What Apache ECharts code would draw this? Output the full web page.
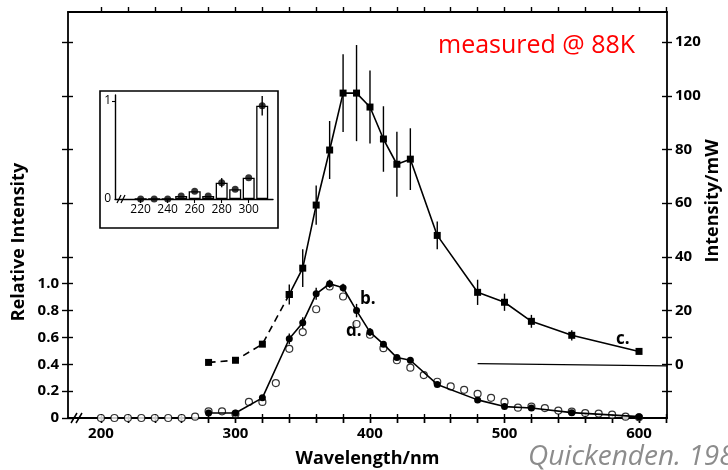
<!DOCTYPE html>
<html>
<head>
<meta charset="utf-8">
<script src="https://cdn.jsdelivr.net/npm/echarts@6/dist/echarts.min.js"></script>
<style>
  html, body { margin: 0; padding: 0; background: #fff; }
  #chart { width: 728px; height: 470px; }
</style>
</head>
<body>
<div id="chart"></div>
<script>
// curve c (right axis, mW) - dashed low part and solid part
const cDashX = [280, 300, 320, 340];
const cDashY = [0.7, 1.5, 7.5, 26];
const cX = [340, 350, 360, 370, 380, 390, 400, 410, 420, 430, 450, 480, 500, 520, 550, 600];
const cY = [26, 35.8, 59.3, 79.8, 101, 101, 95.8, 83.9, 74.5, 76.4, 48, 26.8, 23.1, 16.0, 10.8, 4.8];
const cErr = [3.7, 7, 7.3, 10.8, 14.5, 17.9, 13.6, 12.2, 12.1, 11.5, 5.2, 4.7, 3.2, 2.4, 1.9, 0];

// curve b (left axis, relative)
const bX = [280, 300, 320, 340, 350, 360, 370, 380, 390, 400, 410, 420, 430, 450, 480, 500, 520, 550, 600];
const bY = [0.037, 0.037, 0.15, 0.59, 0.71, 0.925, 1.0, 0.97, 0.80, 0.64, 0.55, 0.45, 0.43, 0.25, 0.135, 0.085, 0.075, 0.04, 0.01];
const bErr = [0, 0, 0, 0.04, 0.04, 0.045, 0.03, 0.03, 0.05, 0.03, 0, 0, 0, 0, 0, 0, 0, 0, 0];

// curve d (open circles, left axis)
const dX = [200, 210, 220, 230, 240, 250, 260, 270, 280, 290, 300, 310, 320, 330, 340, 350, 360, 370, 380, 390,
            400, 410, 420, 430, 440, 450, 460, 470, 480, 490, 500, 510, 520, 530, 540, 550, 560, 570, 580, 590, 600];
const dY = [0, 0, 0, 0, 0, 0, 0, 0.01, 0.05, 0.05, 0.03, 0.12, 0.12, 0.26, 0.515, 0.64, 0.81, 0.98, 0.905, 0.70,
            0.62, 0.52, 0.43, 0.375, 0.32, 0.27, 0.235, 0.21, 0.18, 0.15, 0.12, 0.077, 0.085, 0.074, 0.055, 0.047, 0.037, 0.033, 0.025, 0.01, 0.005];

// zero reference line of curve c
const zeroX = [480, 621];
const zeroY = [0.25, -0.6];

// inset histogram
const insetX = [220, 230, 240, 250, 260, 270, 280, 290, 300, 310];
const insetY = [0, 0, 0, 0.03, 0.08, 0.03, 0.166, 0.10, 0.217, 0.95];
const insetErr = [0, 0, 0, 0, 0, 0, 0.047, 0, 0, 0.1];

// ticks / labels
const xTicks = [200, 220, 240, 260, 280, 300, 320, 340, 360, 380, 400, 420, 440, 460, 480, 500, 520, 540, 560, 580, 600, 620];
const xLabels = [200, 300, 400, 500, 600];
const leftTicks = [0, 0.2, 0.4, 0.6, 0.8, 1.0, 1.2, 1.6, 2.0, 2.4, 2.8];
const leftLabels = [0, 0.2, 0.4, 0.6, 0.8, 1.0];
const rightTicks = [-10, 0, 10, 20, 30, 40, 60, 80, 100, 120];
const rightLabels = [0, 20, 40, 60, 80, 100, 120];
const insetTicks = [220, 240, 260, 280, 300];
const insetYLabels = [0, 1];

const FONT = 'Open Sans';
const zip = (xs, ys) => xs.map((x, i) => [x, ys[i]]);
const zip3 = (xs, ys, es) => xs.map((x, i) => [x, ys[i], es[i]]);

const errItem = (params, api) => {
  const x = api.value(0), y = api.value(1), e = api.value(2);
  if (!e) return null;
  const p1 = api.coord([x, y - e]);
  const p2 = api.coord([x, y + e]);
  return {
    type: 'line',
    shape: { x1: p1[0], y1: p1[1], x2: p2[0], y2: p2[1] },
    style: { stroke: '#000', lineWidth: 1.4 }
  };
};

const lineCol = '#000';
const tickStyle = { color: lineCol, width: 1.4 };
const labelStyle = { color: '#000', fontFamily: FONT, fontWeight: 'bold', fontSize: 15 };

const xBase = (extra) => Object.assign({
  type: 'value', gridIndex: 0, min: 175.5, max: 620.8,
  splitLine: { show: false },
  axisLine: { show: false },
  axisLabel: { show: false },
  axisTick: { show: true, customValues: xTicks, length: 5, lineStyle: tickStyle }
}, extra);

const yBase = (extra) => Object.assign({
  type: 'value', gridIndex: 0,
  splitLine: { show: false },
  axisLine: { show: false },
  axisLabel: { show: false }
}, extra);

const chart = echarts.init(document.getElementById('chart'));
chart.setOption({
  animation: false,
  backgroundColor: '#fff',
  grid: [
    { left: 68, right: 61, top: 12, bottom: 52, containLabel: false, outerBoundsMode: 'none' },
    { left: 115, top: 95, width: 158, height: 104, containLabel: false, outerBoundsMode: 'none' }
  ],
  xAxis: [
    xBase({
      position: 'bottom',
      axisLine: { show: true, onZero: false, lineStyle: { color: lineCol, width: 1.8 } },
      axisLabel: Object.assign({ show: true, customValues: xLabels, margin: 8 }, labelStyle),
      name: 'Wavelength/nm', nameLocation: 'middle', nameGap: 32,
      nameTextStyle: { color: '#000', fontFamily: FONT, fontWeight: 'bold', fontSize: 18 }
    }),
    xBase({ position: 'bottom', axisTick: { show: true, inside: true, customValues: xTicks, length: 4, lineStyle: tickStyle } }),
    xBase({
      position: 'top',
      axisLine: { show: true, onZero: false, lineStyle: { color: lineCol, width: 1.8 } }
    }),
    xBase({ position: 'top', axisTick: { show: true, inside: true, customValues: xTicks, length: 5, lineStyle: tickStyle } }),
    {
      type: 'value', gridIndex: 1, min: 201, max: 318,
      splitLine: { show: false },
      axisLine: { show: true, onZero: false, lineStyle: { color: lineCol, width: 1.4 } },
      axisTick: { show: true, customValues: insetTicks, length: 4, lineStyle: { color: lineCol, width: 1.1 } },
      axisLabel: { show: true, customValues: insetTicks, margin: 5, color: '#000', fontFamily: FONT, fontSize: 12 }
    }
  ],
  yAxis: [
    yBase({
      position: 'left', min: 0, max: 3.024,
      axisLine: { show: true, onZero: false, lineStyle: { color: lineCol, width: 1.8 } },
      axisTick: { show: true, customValues: leftTicks, length: 6, lineStyle: tickStyle },
      axisLabel: Object.assign({
        show: true, customValues: leftLabels, margin: 9,
        formatter: (v) => (v === 0 ? '0' : v.toFixed(1))
      }, labelStyle)
    }),
    yBase({
      position: 'left', min: 0, max: 3.024,
      axisTick: { show: true, inside: true, customValues: leftTicks, length: 5, lineStyle: tickStyle }
    }),
    yBase({
      position: 'right', min: -20, max: 131.2,
      axisLine: { show: true, onZero: false, lineStyle: { color: lineCol, width: 1.8 } },
      axisTick: { show: true, customValues: rightTicks, length: 5, lineStyle: tickStyle },
      axisLabel: Object.assign({ show: true, customValues: rightLabels, margin: 8 }, labelStyle)
    }),
    yBase({
      position: 'right', min: -20, max: 131.2,
      axisTick: { show: true, inside: true, customValues: rightTicks, length: 5, lineStyle: tickStyle }
    }),
    {
      type: 'value', gridIndex: 1, min: 0, max: 1.06,
      splitLine: { show: false },
      axisLine: { show: true, onZero: false, lineStyle: { color: lineCol, width: 1.4 } },
      axisTick: { show: true, customValues: [1], length: 3, lineStyle: { color: lineCol, width: 1.1 } },
      axisLabel: { show: true, customValues: insetYLabels, margin: 4, color: '#000', fontFamily: FONT, fontSize: 12 }
    }
  ],
  series: [
    {
      type: 'line', name: 'c low', xAxisIndex: 0, yAxisIndex: 2,
      data: zip(cDashX, cDashY),
      symbol: 'rect', symbolSize: 7,
      itemStyle: { color: '#000' },
      lineStyle: { color: '#000', width: 1.6, type: [7, 5] },
      z: 5
    },
    {
      type: 'line', name: 'c', xAxisIndex: 0, yAxisIndex: 2,
      data: zip(cX, cY),
      symbol: 'rect', symbolSize: 7,
      itemStyle: { color: '#000' },
      lineStyle: { color: '#000', width: 1.6 },
      z: 5
    },
    {
      type: 'custom', name: 'c err', xAxisIndex: 0, yAxisIndex: 2,
      data: zip3(cX, cY, cErr), encode: { x: 0, y: 1 },
      renderItem: errItem, z: 4
    },
    {
      type: 'line', name: 'zero', xAxisIndex: 0, yAxisIndex: 2,
      data: zip(zeroX, zeroY), symbol: 'none',
      lineStyle: { color: '#000', width: 1.4 }
    },
    {
      type: 'scatter', name: 'd', xAxisIndex: 0, yAxisIndex: 0,
      data: zip(dX, dY),
      symbol: 'circle', symbolSize: 7,
      itemStyle: { color: '#fff', borderColor: '#000', borderWidth: 1.2 },
      z: 3
    },
    {
      type: 'line', name: 'b', xAxisIndex: 0, yAxisIndex: 0,
      data: zip(bX, bY),
      symbol: 'circle', symbolSize: 7,
      itemStyle: { color: '#000' },
      lineStyle: { color: '#000', width: 1.6 },
      z: 6
    },
    {
      type: 'custom', name: 'b err', xAxisIndex: 0, yAxisIndex: 0,
      data: zip3(bX, bY, bErr), encode: { x: 0, y: 1 },
      renderItem: errItem, z: 6
    },
    {
      type: 'bar', name: 'inset bars', xAxisIndex: 4, yAxisIndex: 4,
      data: zip(insetX, insetY), barWidth: 12,
      itemStyle: { color: 'rgba(0,0,0,0)', borderColor: '#000', borderWidth: 1.3 }
    },
    {
      type: 'scatter', name: 'inset pts', xAxisIndex: 4, yAxisIndex: 4,
      data: zip(insetX, insetY), symbol: 'circle', symbolSize: 7,
      itemStyle: { color: '#000' }, z: 5
    },
    {
      type: 'custom', name: 'inset err', xAxisIndex: 4, yAxisIndex: 4,
      data: zip3(insetX, insetY, insetErr), encode: { x: 0, y: 1 },
      renderItem: errItem, z: 5
    }
  ],
  graphic: [
    // inset frame
    { type: 'rect', shape: { x: 100, y: 91, width: 178, height: 137 }, style: { fill: 'none', stroke: '#000', lineWidth: 1.6 } },
    // axis breaks
    { type: 'line', shape: { x1: 71, y1: 423, x2: 77, y2: 413 }, style: { stroke: '#000', lineWidth: 1.5 } },
    { type: 'line', shape: { x1: 76, y1: 423, x2: 82, y2: 413 }, style: { stroke: '#000', lineWidth: 1.5 } },
    { type: 'line', shape: { x1: 117, y1: 203, x2: 121, y2: 195 }, style: { stroke: '#000', lineWidth: 1.2 } },
    { type: 'line', shape: { x1: 121, y1: 203, x2: 125, y2: 195 }, style: { stroke: '#000', lineWidth: 1.2 } },
    // curve labels
    { type: 'text', x: 360, y: 299, style: { text: 'b.', font: 'bold 17px "Open Sans"', fill: '#000', textVerticalAlign: 'middle' } },
    { type: 'text', x: 346, y: 331, style: { text: 'd.', font: 'bold 17px "Open Sans"', fill: '#000', textVerticalAlign: 'middle' } },
    { type: 'text', x: 616, y: 339, style: { text: 'c.', font: 'bold 17px "Open Sans"', fill: '#000', textVerticalAlign: 'middle' } },
    // rotated axis names
    { type: 'text', x: 19, y: 242, rotation: Math.PI / 2,
      style: { text: 'Relative Intensity', font: 'bold 18px "Open Sans"', fill: '#000', textAlign: 'center', textVerticalAlign: 'middle' } },
    { type: 'text', x: 713, y: 201, rotation: Math.PI / 2,
      style: { text: 'Intensity/mW', font: 'bold 18px "Open Sans"', fill: '#000', textAlign: 'center', textVerticalAlign: 'middle' } },
    // annotations
    { type: 'text', x: 438, y: 46, style: { text: 'measured @ 88K', font: '25px "Open Sans"', fill: '#ff0000', textVerticalAlign: 'middle' } },
    { type: 'text', x: 528, y: 457, style: { text: 'Quickenden. 198', font: 'italic 28px "Open Sans"', fill: '#8c8c8c', textVerticalAlign: 'middle' } }
  ]
});
</script>
</body>
</html>
